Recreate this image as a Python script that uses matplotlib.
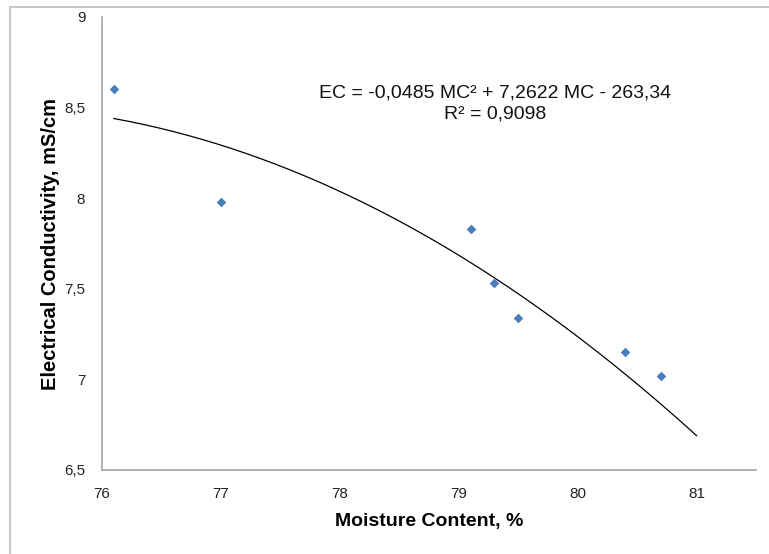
import numpy as np
import matplotlib
matplotlib.use("Agg")
import matplotlib.pyplot as plt
from matplotlib.patches import Rectangle
from matplotlib.ticker import FuncFormatter

# Data
moisture = [76.1, 77.0, 79.1, 79.3, 79.5, 80.4, 80.7]
ec = [8.60, 7.98, 7.83, 7.53, 7.34, 7.15, 7.02]
trend_coeffs = [-0.0485, 7.2622, -263.34]
trend_range = [76.1, 81.0]
x_ticks = [76, 77, 78, 79, 80, 81]
y_ticks = [6.5, 7, 7.5, 8, 8.5, 9]

plt.rcParams['font.family'] = ['Liberation Sans', 'DejaVu Sans']

fig = plt.figure(figsize=(7.69, 5.54), dpi=100)
W, H = 769, 554
ax = fig.add_axes([102 / W, 1 - 470 / H, (756 - 102) / W, (470 - 17) / H])

xs = np.linspace(trend_range[0], trend_range[1], 200)
ax.plot(xs, np.polyval(trend_coeffs, xs), color='black', lw=0.9, zorder=2)
ax.scatter(moisture, ec, marker='D', s=24, color='#4a7ebb', zorder=3, linewidths=0)

ax.set_xlim(76, 81.5)
ax.set_ylim(6.5, 9)
ax.set_xticks(x_ticks)
ax.set_yticks(y_ticks)
fmt = FuncFormatter(lambda v, p: ('%g' % v).replace('.', ','))
ax.xaxis.set_major_formatter(fmt)
ax.yaxis.set_major_formatter(fmt)
ax.tick_params(length=0, labelsize=11, colors='#222222', pad=12)
ax.tick_params(axis='y', pad=12)
for s in ['top', 'right']:
    ax.spines[s].set_visible(False)
for s in ['left', 'bottom']:
    ax.spines[s].set_color('#a6a6a6')
    ax.spines[s].set_linewidth(1.2)

ax.set_xlabel('Moisture Content, %', fontsize=14, fontweight='bold', labelpad=9)
ax.set_ylabel('Electrical Conductivity, mS/cm', fontsize=14.5, fontweight='bold', labelpad=3)

ax.text(0.601, 0.809, 'EC = -0,0485 MC² + 7,2622 MC - 263,34\nR² = 0,9098',
        transform=ax.transAxes, ha='center', va='center', fontsize=14,
        linespacing=1.35, color='#111111')

fig.patches.append(Rectangle((10 / W, -0.1), 1.2, 1 - 7 / H + 0.1, transform=fig.transFigure,
                             fill=False, edgecolor='#c8c8c8', lw=1.5))

fig.savefig('out.png', dpi=100)
